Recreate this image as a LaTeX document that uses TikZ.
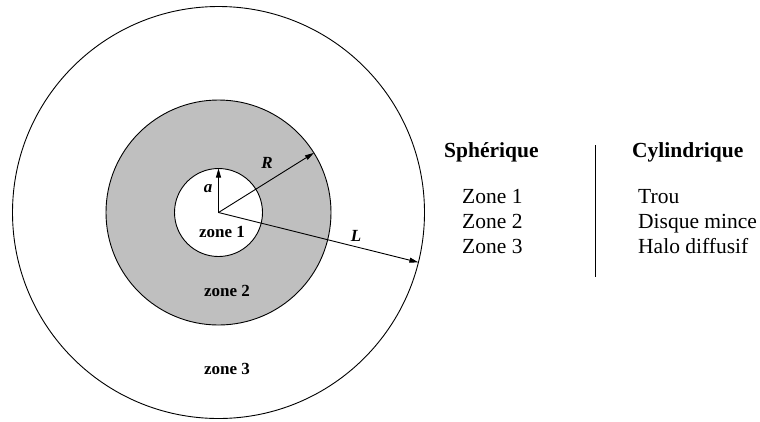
\documentclass[tikz,border=0pt]{standalone}
\usepackage{fontspec}
\setmainfont{Liberation Serif}
\usetikzlibrary{arrows.meta}
\begin{document}
\begin{tikzpicture}[x=1pt,y=-1pt,
  ring/.style={circle, draw, line width=0.9pt, inner sep=0pt, outer sep=0pt},
  arr/.style={-{Triangle[length=9pt,width=5pt]}, line width=0.9pt},
  lab/.style={font=\fontsize{17}{20}\selectfont\bfseries, anchor=base, inner sep=0pt},
  sym/.style={font=\fontsize{17}{20}\selectfont\bfseries\itshape, anchor=base, inner sep=0pt},
  head/.style={font=\fontsize{21.5}{25}\selectfont\bfseries, anchor=base west, inner sep=0pt},
  item/.style={font=\fontsize{21.5}{25}\selectfont, anchor=base west, inner sep=0pt}]
\useasboundingbox (0,0) rectangle (760,421);
\coordinate (c) at (218.5,212.5);
\node[ring, minimum size=412pt] (outer) at (c) {};
\node[ring, fill=black!25, minimum size=225pt] (disk) at (c) {};
\node[ring, fill=white, minimum size=88pt] (hole) at (c) {};
\draw[arr] (c) -- (hole.90);
\draw[arr] (c) -- (disk.32);
\draw[arr] (c) -- (outer.-14);
\node[sym] (la) at (208,192) {a};
\node[sym] (lR) at (267,168) {R};
\node[sym] (lL) at (356,241.5) {L};
\node[lab] (z1) at (222,237.5) {zone 1};
\node[lab] (z2) at (227,296.5) {zone 2};
\node[lab] (z3) at (227,374) {zone 3};
\node[head] (hs) at (444,157) {Sphérique};
\node[item] (s1) at (462,203) {Zone 1};
\node[item] (s2) at (462,228) {Zone 2};
\node[item] (s3) at (462,253) {Zone 3};
\node[head] (hc) at (632,157) {Cylindrique};
\node[item] (c1) at (638,203) {Trou};
\node[item] (c2) at (638,228) {Disque mince};
\node[item] (c3) at (638,253) {Halo diffusif};
\coordinate (vtop) at (595,145);
\coordinate (vbot) at (595,277);
\draw[line width=0.9pt] (vtop) -- (vbot);
\end{tikzpicture}
\end{document}
